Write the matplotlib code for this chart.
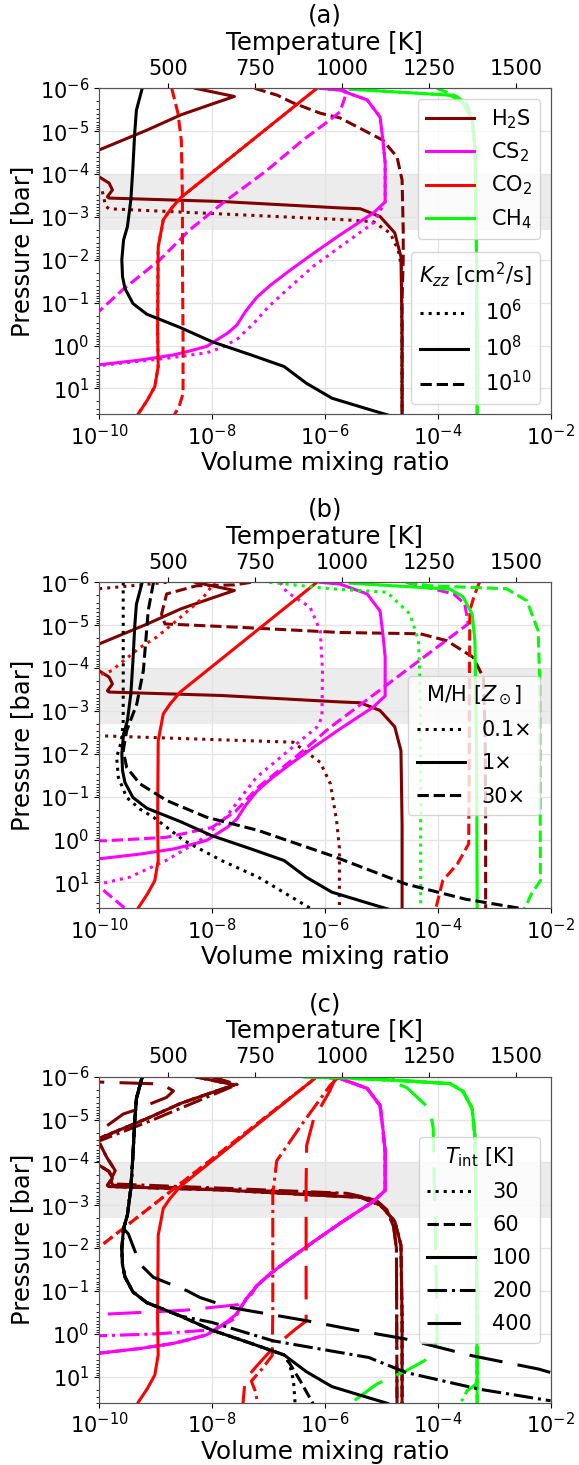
import numpy as np
import matplotlib
matplotlib.use('Agg')
import matplotlib.pyplot as plt
from matplotlib.lines import Line2D
from matplotlib.ticker import FixedLocator, NullLocator, LogLocator, NullFormatter

plt.rcParams['font.family'] = ['DejaVu Sans']
plt.rcParams['mathtext.fontset'] = 'dejavusans'
plt.rcParams['xtick.labelsize'] = 15
plt.rcParams['ytick.labelsize'] = 15
plt.rcParams['axes.labelsize'] = 17.5
plt.rcParams['axes.titlesize'] = 17.5
plt.rcParams['legend.fontsize'] = 15
plt.rcParams['legend.title_fontsize'] = 15

C_H2S, C_CS2, C_CO2, C_CH4 = '#800000', '#ff00ff', '#ff0000', '#00ff00'
LW = 2.2
LONG = (0, (11, 5))

# ---------------- temperature profiles: T [K] vs log10 P [bar] ----------------
T_base = [424, 408, 403, 398, 392, 382, 371, 366, 368, 375, 398, 438, 534, 625, 738, 833, 897, 971, 1077, 1131]
lpT_base = [-5.98, -5.49, -4.95, -4.17, -3.40, -2.77, -2.46, -2.00, -1.61, -1.33, -0.98, -0.73, -0.42, -0.09, 0.22, 0.49, 0.88, 1.23, 1.49, 1.62]
T_b01 = [370, 370, 365, 351, 356, 380, 418, 457, 546, 653, 759, 918]
lpT_b01 = [-6.0, -2.77, -2.30, -1.92, -1.45, -0.98, -0.71, -0.52, 0.03, 0.49, 0.88, 1.65]
T_b30 = [457, 442, 428, 409, 380, 370, 380, 418, 495, 610, 759, 971, 1184, 1354, 1523]
lpT_b30 = [-6.0, -5.34, -3.94, -3.16, -2.54, -2.07, -1.68, -1.30, -0.91, -0.52, -0.21, 0.38, 1.04, 1.39, 1.62]
T_c30 = [424, 408, 403, 398, 392, 382, 371, 366, 368, 375, 398, 438, 534, 625, 738, 833, 849, 860, 865]
lpT_c30 = [-5.98, -5.49, -4.95, -4.17, -3.40, -2.77, -2.46, -2.00, -1.61, -1.33, -0.98, -0.73, -0.42, -0.09, 0.22, 0.49, 0.70, 1.09, 1.65]
T_c60 = [424, 408, 403, 398, 392, 382, 371, 366, 368, 375, 398, 438, 534, 625, 738, 833, 850, 880, 918]
lpT_c60 = [-5.98, -5.49, -4.95, -4.17, -3.40, -2.77, -2.46, -2.00, -1.61, -1.33, -0.98, -0.73, -0.42, -0.09, 0.22, 0.49, 0.70, 1.10, 1.65]
T_c200 = [424, 408, 403, 398, 392, 382, 371, 366, 368, 375, 398, 438, 534, 625, 801, 1077, 1184, 1396, 1600]
lpT_c200 = [-5.98, -5.49, -4.95, -4.17, -3.40, -2.77, -2.46, -2.00, -1.61, -1.33, -0.98, -0.73, -0.42, -0.27, 0.16, 0.55, 0.90, 1.29, 1.56]
T_c400 = [424, 408, 403, 398, 392, 382, 371, 385, 418, 457, 553, 591, 677, 897, 1024, 1184, 1375, 1566, 1600]
lpT_c400 = [-5.98, -5.49, -4.95, -4.17, -3.40, -2.77, -2.46, -2.33, -1.63, -1.32, -1.01, -0.85, -0.62, -0.31, -0.11, 0.12, 0.51, 0.82, 0.90]

# ---------------- panel (a): Kzz, log10 VMR vs log10 P ----------------
h2s_a8_x = [-8.29, -7.60, -7.96, -8.55, -9.14, -10.0, -10.5, -10.5, -9.99, -9.82, -9.76, -9.85, -9.82, -7.83, -5.73, -5.37, -5.02, -4.76, -4.65, -4.63, -4.63]
h2s_a8_p = [-6.0, -5.81, -5.65, -5.38, -5.03, -4.56, -4.33, -4.09, -3.93, -3.79, -3.63, -3.47, -3.44, -3.36, -3.21, -3.19, -3.01, -2.63, -2.07, -0.36, 1.65]
h2s_a6_x = [-10.5, -9.94, -9.88, -9.82, -7.83, -5.73, -5.14, -4.84, -4.70, -4.64, -4.63]
h2s_a6_p = [-3.75, -3.60, -3.25, -3.19, -3.07, -2.94, -2.89, -2.62, -2.23, -1.84, 1.65]
h2s_a10_x = [-7.24, -6.84, -6.56, -6.08, -5.73, -5.32, -4.97, -4.72, -4.63, -4.61, -4.61, -4.63, -4.63]
h2s_a10_p = [-6.0, -5.84, -5.66, -5.42, -5.31, -5.03, -4.79, -4.40, -3.86, -2.70, -2.0, -1.06, 1.65]
cs2_a8_x = [-6.08, -5.73, -5.25, -5.02, -4.97, -4.93, -4.93, -5.14, -5.73, -6.20, -6.61, -6.95, -7.20, -7.40, -7.56, -7.72, -7.90, -8.09, -8.40, -8.68, -9.27, -10.0, -10.5]
cs2_a8_p = [-6.0, -5.96, -5.73, -5.33, -4.79, -4.26, -3.35, -3.09, -2.58, -2.15, -1.76, -1.42, -1.13, -0.80, -0.47, -0.29, -0.14, 0.02, 0.13, 0.22, 0.34, 0.45, 0.49]
cs2_a6_x = [-6.08, -5.73, -5.25, -5.02, -4.97, -4.93, -4.93, -5.14, -5.73, -6.20, -6.61, -7.00, -7.27, -7.55, -7.83, -8.09, -8.81, -10.0, -10.5]
cs2_a6_p = [-6.0, -5.96, -5.73, -5.33, -4.79, -4.26, -3.35, -2.86, -2.30, -1.85, -1.37, -0.90, -0.50, -0.15, 0.05, 0.17, 0.30, 0.47, 0.51]
cs2_a10_x = [-10.5, -10.16, -9.58, -8.92, -8.39, -7.80, -7.02, -6.39, -5.91, -5.73, -5.64, -5.61, -5.74]
cs2_a10_p = [-0.19, -0.60, -1.30, -2.0, -2.70, -3.33, -4.09, -4.79, -5.26, -5.45, -5.80, -5.92, -6.0]
co2_a8_x = [-6.14, -8.56, -8.74, -8.86, -8.95, -8.96, -8.95, -9.01, -9.14, -9.33]
co2_a8_p = [-6.0, -3.44, -3.16, -2.93, -2.30, -0.36, 0.49, 0.96, 1.27, 1.65]
co2_a10_x = [-8.71, -8.60, -8.54, -8.52, -8.52, -8.51, -8.51, -8.58, -8.68]
co2_a10_p = [-6.0, -5.42, -4.79, -3.40, -1.84, -0.28, 1.12, 1.43, 1.65]
ch4_a8_x = [-5.55, -3.78, -3.55, -3.39, -3.34, -3.31, -3.30]
ch4_a8_p = [-5.98, -5.84, -5.66, -5.26, -4.63, -1.93, 1.65]
ch4_a10_x = [-4.01, -3.66, -3.48, -3.39, -3.34, -3.31, -3.30]
ch4_a10_p = [-6.0, -5.81, -5.63, -5.26, -4.63, -1.93, 1.65]

# ---------------- panel (b): metallicity ----------------
h2s_b01_x = [-8.8, -9.42, -10.0, -10.5, -10.5, -9.98, -6.56, -6.08, -5.90, -5.79, -5.74, -5.74]
h2s_b01_p = [-6.0, -5.92, -5.85, -5.80, -2.43, -2.42, -2.27, -1.80, -1.30, -0.44, 0.2, 1.65]
h2s_b30_x = [-7.31, -7.6, -8.27, -8.80, -8.89, -8.83, -7.5, -5.73, -4.31, -3.84, -3.37, -3.19, -3.16, -3.15, -3.15]
h2s_b30_p = [-6.0, -5.94, -5.92, -5.73, -5.26, -5.03, -4.95, -4.83, -4.80, -4.64, -4.25, -3.78, -2.5, -0.44, 1.65]
cs2_b01_x = [-6.79, -6.67, -6.26, -6.08, -6.04, -6.05, -6.14, -6.50, -7.21, -7.80, -8.22, -8.81, -9.46, -10.0, -10.5]
cs2_b01_p = [-6.0, -5.77, -5.42, -4.87, -3.94, -2.85, -2.62, -2.23, -1.45, -0.44, 0.03, 0.49, 0.88, 1.04, 1.10]
cs2_b30_x = [-4.56, -4.31, -3.72, -3.52, -3.46, -5.90, -6.52, -7.18, -7.57, -8.00, -8.81, -9.89, -10.5, -10.5, -9.95, -9.50]
cs2_b30_p = [-6.0, -5.92, -5.73, -5.50, -5.03, -2.62, -1.92, -1.22, -0.67, -0.28, -0.05, 0.03, 0.03, 1.05, 1.15, 1.65]
co2_b01_x = [-10.5, -9.77, -9.63, -9.27, -8.98, -8.62, -8.15, -7.95]
co2_b01_p = [-3.6, -3.94, -4.10, -4.48, -4.72, -5.11, -5.65, -6.0]
co2_b30_x = [-3.26, -3.35, -3.43, -3.44, -3.44, -3.45, -3.65, -3.91, -4.04]
co2_b30_p = [-6.0, -5.7, -5.34, -3.16, -2.15, 0.10, 0.57, 0.96, 1.65]
ch4_b01_x = [-6.98, -5.90, -4.90, -4.49, -4.34, -4.31, -4.30, -4.30]
ch4_b01_p = [-6.0, -5.85, -5.77, -5.26, -4.64, -3.55, -1.0, 1.65]
ch4_b30_x = [-4.56, -4.14, -2.78, -2.42, -2.22, -2.19, -2.18, -2.34, -2.47]
ch4_b30_p = [-6.0, -5.92, -5.85, -5.57, -4.87, -3.55, 0.96, 1.27, 1.65]

# ---------------- panel (c): internal temperature ----------------
h2s_c200_x = [-8.0, -7.55, -9.09, -10.0, -10.5, -10.5, -9.98, -9.86, -9.71, -9.80, -9.75, -7.8, -5.6, -5.1, -4.90, -4.78, -4.73, -4.72]
h2s_c200_p = [-6.0, -5.82, -4.97, -4.50, -4.3, -4.45, -4.43, -4.12, -3.81, -3.57, -3.50, -3.40, -3.28, -3.13, -2.9, -2.5, -2.0, 1.65]
h2s_c400_x = [-10.5, -9.83, -9.33, -8.89, -8.68, -8.80, -9.39, -9.57, -9.98, -10.5, -10.5, -9.98, -9.86, -9.71, -9.80, -9.75, -7.8, -5.6, -5.1, -4.90, -4.78, -4.73, -4.72]
h2s_c400_p = [-5.9, -5.87, -5.85, -5.83, -5.67, -5.52, -5.21, -5.13, -4.74, -4.5, -4.45, -4.43, -4.12, -3.81, -3.57, -3.47, -3.37, -3.27, -3.12, -2.9, -2.5, -2.0, 1.65]
cs2_c200_x = [-6.08, -5.73, -5.25, -5.02, -4.97, -4.93, -4.93, -5.14, -5.73, -6.20, -6.61, -6.95, -7.20, -7.40, -7.60, -7.96, -9.0, -9.92, -10.5]
cs2_c200_p = [-6.0, -5.96, -5.73, -5.33, -4.79, -4.26, -3.35, -3.09, -2.58, -2.15, -1.76, -1.42, -1.13, -0.80, -0.35, -0.10, 0.0, 0.04, 0.05]
cs2_c400_x = [-6.08, -5.73, -5.25, -5.02, -4.97, -4.93, -4.93, -5.14, -5.73, -6.20, -6.61, -6.95, -7.20, -7.35, -7.55, -8.5, -9.92, -10.5]
cs2_c400_p = [-6.0, -5.96, -5.73, -5.33, -4.79, -4.26, -3.35, -3.09, -2.58, -2.15, -1.76, -1.42, -1.13, -0.82, -0.68, -0.55, -0.46, -0.44]
co2_c30_x = [-6.15, -6.26, -10.0, -10.5]
co2_c30_p = [-6.0, -5.87, -2.02, -1.50]
co2_c200_x = [-5.75, -5.91, -6.4, -6.85, -6.92, -6.92, -6.93, -7.1, -7.3, -7.24, -7.18]
co2_c200_p = [-6.0, -5.79, -4.9, -4.04, -3.26, -0.54, 0.5, 0.8, 1.1, 1.3, 1.65]
co2_c400_x = [-5.80, -5.91, -6.2, -6.32, -6.33, -6.33, -6.52, -6.91, -7.18, -7.41, -7.45]
co2_c400_p = [-6.0, -5.67, -5.0, -4.4, -3.5, -0.3, -0.11, 0.32, 0.71, 1.06, 1.65]
ch4_c200_x = [-6.39, -5.0, -3.78, -3.55, -3.39, -3.34, -3.31, -3.30, -3.32, -3.48, -3.61]
ch4_c200_p = [-6.0, -5.95, -5.84, -5.66, -5.26, -4.63, -1.93, 1.0, 1.17, 1.33, 1.65]
ch4_c400_x = [-6.39, -5.0, -4.75, -4.55, -4.14, -4.08, -4.02, -4.01, -4.11, -4.23, -4.56, -5.08, -5.48, -5.55]
ch4_c400_p = [-6.0, -5.93, -5.85, -5.75, -5.25, -4.82, -0.93, 0.16, 0.47, 0.62, 0.86, 1.17, 1.56, 1.65]

species_labels = ['H$_2$S', 'CS$_2$', 'CO$_2$', 'CH$_4$']
species_colors = [C_H2S, C_CS2, C_CO2, C_CH4]
kzz_labels = ['$10^6$', '$10^8$', '$10^{10}$']
mh_labels = ['0.1\u00d7', '1\u00d7', '30\u00d7']
tint_labels = ['30', '60', '100', '200', '400']


def E(v):
    return 10 ** np.asarray(v, dtype=float)


fig = plt.figure(figsize=(5.79, 14.65), dpi=100)
left, width, height = 0.1708, 0.7801, 0.2225
bottoms = [0.7172, 0.3800, 0.0425]
LEG = dict(handlelength=2.3)
LEG_PLAIN = dict(handlelength=2.3, labelspacing=0.63)


def setup(b, tag):
    ax = fig.add_axes([left, b, width, height])
    ax.set_xscale('log')
    ax.set_yscale('log')
    ax.set_xlim(1e-10, 1e-2)
    ax.set_ylim(10 ** 1.605, 1e-6)
    ax.xaxis.set_major_locator(FixedLocator([1e-10, 1e-8, 1e-6, 1e-4, 1e-2]))
    ax.xaxis.set_minor_locator(NullLocator())
    ax.yaxis.set_major_locator(LogLocator(base=10, numticks=20))
    ax.yaxis.set_minor_locator(LogLocator(base=10, subs=np.arange(2, 10), numticks=20))
    ax.yaxis.set_minor_formatter(NullFormatter())
    ax.grid(True, which='major', color='#e3e3e3', lw=0.9, zorder=0)
    ax.set_axisbelow(True)
    ax.axhspan(1e-4, 2e-3, color='0.5', alpha=0.15, lw=0, zorder=0.5)
    ax.set_xlabel('Volume mixing ratio', fontsize=17.7, labelpad=1.5)
    ax.set_ylabel('Pressure [bar]')
    for s in ax.spines.values():
        s.set_color('#555555')
    ax2 = ax.twiny()
    ax2.set_xlim(300, 1600)
    ax2.set_xticks([500, 750, 1000, 1250, 1500])
    ax2.set_xlabel('Temperature [K]', labelpad=6.2)
    ax2.set_title(tag)
    for s in ax2.spines.values():
        s.set_color('#555555')
    return ax, ax2


def pl(ax, x, p, c, ls):
    ax.plot(E(x), E(p), color=c, ls=ls, lw=LW)


# ---- (a) ----
ax, ax2 = setup(bottoms[0], '(a)')
pl(ax, h2s_a6_x, h2s_a6_p, C_H2S, ':')
pl(ax, h2s_a8_x, h2s_a8_p, C_H2S, '-')
pl(ax, h2s_a10_x, h2s_a10_p, C_H2S, '--')
pl(ax, cs2_a6_x, cs2_a6_p, C_CS2, ':')
pl(ax, cs2_a8_x, cs2_a8_p, C_CS2, '-')
pl(ax, cs2_a10_x, cs2_a10_p, C_CS2, '--')
pl(ax, co2_a8_x, co2_a8_p, C_CO2, ':')
pl(ax, co2_a8_x, co2_a8_p, C_CO2, '-')
pl(ax, co2_a10_x, co2_a10_p, C_CO2, '--')
pl(ax, ch4_a10_x, ch4_a10_p, C_CH4, '--')
pl(ax, ch4_a8_x, ch4_a8_p, C_CH4, ':')
pl(ax, ch4_a8_x, ch4_a8_p, C_CH4, '-')
ax2.plot(T_base, E(lpT_base), color='k', lw=LW)
h1 = [Line2D([], [], color=c, lw=LW) for c in species_colors]
leg1 = ax2.legend(h1, species_labels, loc='upper right', labelspacing=0.47, **LEG)
ax2.add_artist(leg1)
h2 = [Line2D([], [], color='k', lw=LW, ls=s) for s in [':', '-', '--']]
ax2.legend(h2, kzz_labels, title='$K_{zz}$ [cm$^2$/s]', loc='lower right', **LEG)

# ---- (b) ----
ax, ax2 = setup(bottoms[1], '(b)')
pl(ax, h2s_b01_x, h2s_b01_p, C_H2S, ':')
pl(ax, h2s_a8_x, h2s_a8_p, C_H2S, '-')
pl(ax, h2s_b30_x, h2s_b30_p, C_H2S, '--')
pl(ax, cs2_b01_x, cs2_b01_p, C_CS2, ':')
pl(ax, cs2_a8_x, cs2_a8_p, C_CS2, '-')
pl(ax, cs2_b30_x, cs2_b30_p, C_CS2, '--')
pl(ax, co2_b01_x, co2_b01_p, C_CO2, ':')
pl(ax, co2_a8_x, co2_a8_p, C_CO2, '-')
pl(ax, co2_b30_x, co2_b30_p, C_CO2, '--')
pl(ax, ch4_b01_x, ch4_b01_p, C_CH4, ':')
pl(ax, ch4_a8_x, ch4_a8_p, C_CH4, '-')
pl(ax, ch4_b30_x, ch4_b30_p, C_CH4, '--')
ax2.plot(T_b01, E(lpT_b01), color='k', lw=LW, ls=':')
ax2.plot(T_base, E(lpT_base), color='k', lw=LW, ls='-')
ax2.plot(T_b30, E(lpT_b30), color='k', lw=LW, ls='--')
h3 = [Line2D([], [], color='k', lw=LW, ls=s) for s in [':', '-', '--']]
ax2.legend(h3, mh_labels, title='M/H [$Z_\\odot$]', loc='center right', **LEG_PLAIN)

# ---- (c) ----
ax, ax2 = setup(bottoms[2], '(c)')
styles_c = [':', '--', '-', '-.', LONG]
for ls in styles_c[:3]:
    pl(ax, h2s_a8_x, h2s_a8_p, C_H2S, ls)
pl(ax, h2s_c200_x, h2s_c200_p, C_H2S, '-.')
pl(ax, h2s_c400_x, h2s_c400_p, C_H2S, LONG)
for ls in styles_c[:3]:
    pl(ax, cs2_a8_x, cs2_a8_p, C_CS2, ls)
pl(ax, cs2_c200_x, cs2_c200_p, C_CS2, '-.')
pl(ax, cs2_c400_x, cs2_c400_p, C_CS2, LONG)
pl(ax, co2_c30_x, co2_c30_p, C_CO2, ':')
pl(ax, co2_c30_x, co2_c30_p, C_CO2, '--')
pl(ax, co2_a8_x, co2_a8_p, C_CO2, '-')
pl(ax, co2_c200_x, co2_c200_p, C_CO2, '-.')
pl(ax, co2_c400_x, co2_c400_p, C_CO2, LONG)
for ls in styles_c[:3]:
    pl(ax, ch4_a8_x, ch4_a8_p, C_CH4, ls)
pl(ax, ch4_c200_x, ch4_c200_p, C_CH4, '-.')
pl(ax, ch4_c400_x, ch4_c400_p, C_CH4, LONG)
ax2.plot(T_c30, E(lpT_c30), color='k', lw=LW, ls=':')
ax2.plot(T_c60, E(lpT_c60), color='k', lw=LW, ls='--')
ax2.plot(T_base, E(lpT_base), color='k', lw=LW, ls='-')
ax2.plot(T_c200, E(lpT_c200), color='k', lw=LW, ls='-.')
ax2.plot(T_c400, E(lpT_c400), color='k', lw=LW, ls=LONG)
h4 = [Line2D([], [], color='k', lw=LW, ls=s) for s in styles_c]
ax2.legend(h4, tint_labels, title='$T_{\\rm int}$ [K]', loc='center right', **LEG_PLAIN)

fig.savefig('out.png', dpi=100)
